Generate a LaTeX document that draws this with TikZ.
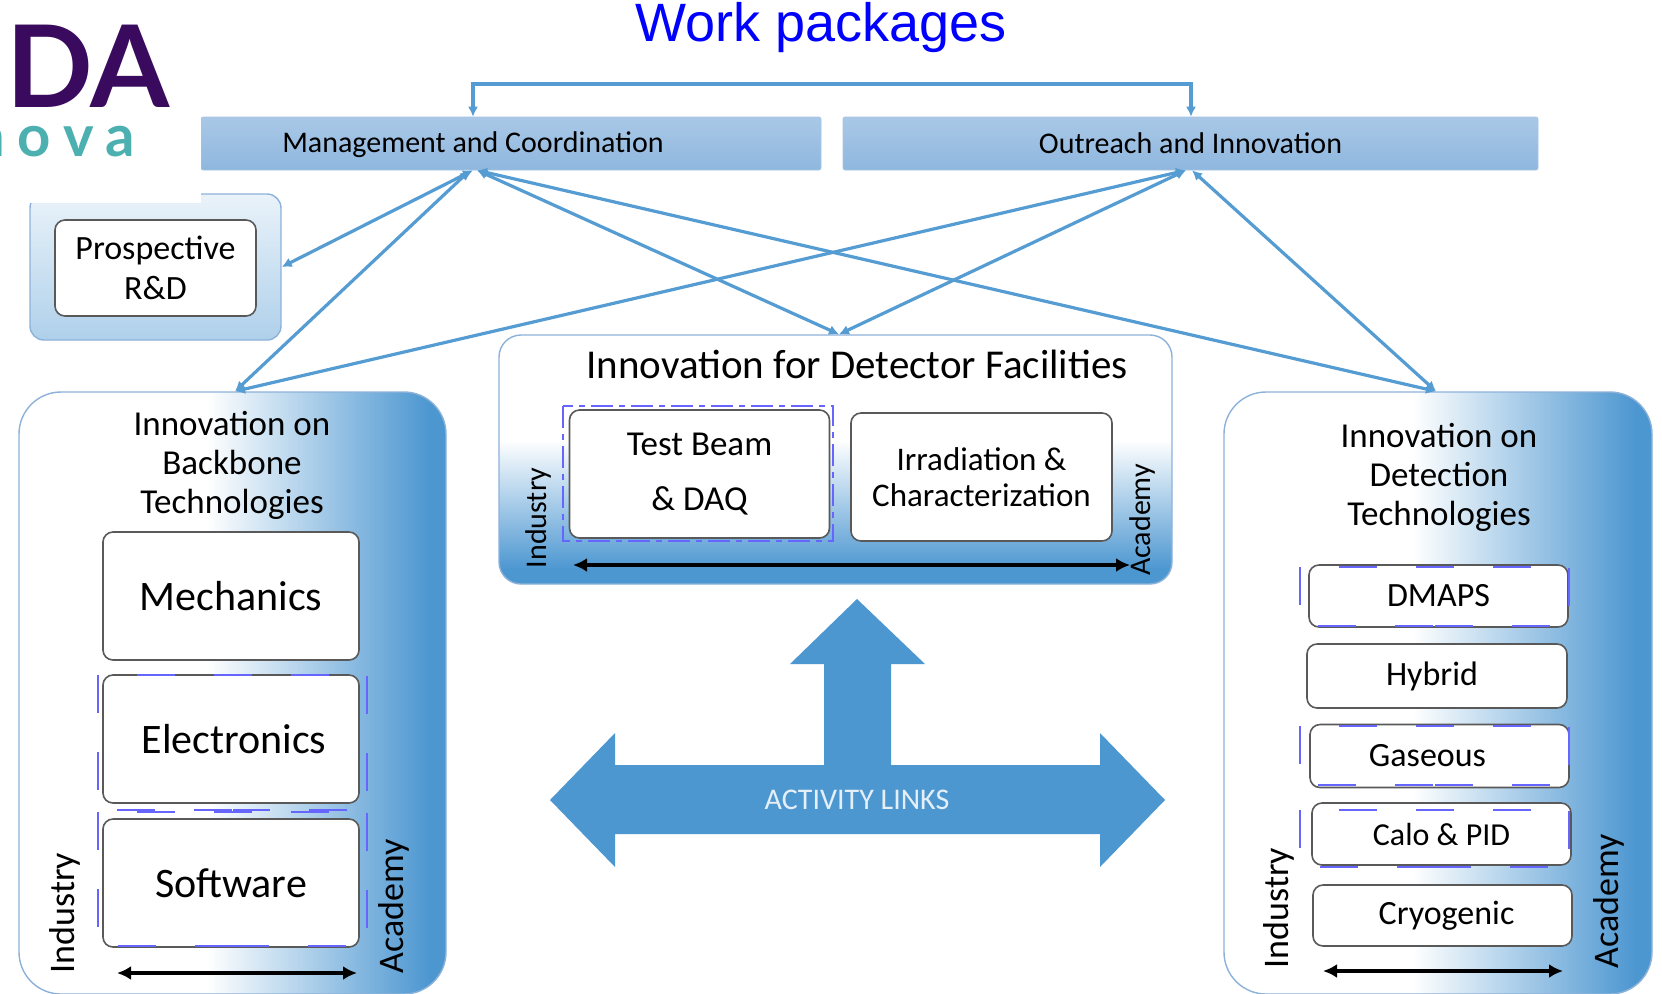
\documentclass[tikz,border=0pt]{standalone}
\usepackage{fontspec}
\setmainfont{Carlito}
\newfontfamily\titlefont{Liberation Sans}
\newfontfamily\logofont{Lato}
\usetikzlibrary{arrows.meta,shapes.misc}

\definecolor{linkblue}{HTML}{559CD3}
\definecolor{fadeblue}{HTML}{4D97D1}
\definecolor{dashblue}{HTML}{6666FF}
\definecolor{logopurple}{HTML}{3A0A5E}
\definecolor{logoteal}{HTML}{4CAFB0}
\pgfdeclarehorizontalshading{sidefade}{100bp}{color(0bp)=(white); color(47bp)=(white); color(73bp)=(fadeblue); color(100bp)=(fadeblue)}
\pgfdeclareverticalshading{basefade}{100bp}{color(0bp)=(fadeblue); color(28bp)=(fadeblue); color(54bp)=(white); color(100bp)=(white)}

% dashes run round two sides from the top left corner and meet under the box
\newcommand{\dashedframe}[4]{%
  \draw [dashframe] (#1,#2) -- (#1,#4) -- ({(#1+#3)/2},#4);
  \draw [dashframe,dash phase=19pt] (#1,#2) -- (#3,#2) -- (#3,#4) -- ({(#1+#3)/2},#4);
}

\tikzset{
  link/.style={linkblue,line width=1.6pt,{Latex[length=5pt,width=5pt]}-{Latex[length=5pt,width=5pt]}},
  spread/.style={black,line width=1.6pt,{Latex[length=7pt,width=7pt]}-{Latex[length=7pt,width=7pt]}},
  bar/.style={rectangle,rounded corners=1pt,top color=barlight,bottom color=bardark,draw=bardark!80!white,line width=0.3pt,font=\fontsize{15}{18}\selectfont,inner sep=0pt},
  item/.style={rectangle,draw=black!65,line width=0.8pt,fill=white,rounded corners=5pt,align=center,inner sep=0pt},
  panel/.style={rectangle,draw=panelline,line width=0.7pt,inner sep=0pt},
  side/.style={rotate=90,font=\fontsize{18}{20}\selectfont,inner sep=0pt},
  dashframe/.style={dashblue,line width=1.2pt,dash pattern=on 19pt off 19.5pt},
}
\definecolor{barlight}{HTML}{A9C8E7}
\definecolor{bardark}{HTML}{8FB7DE}
\definecolor{panelline}{HTML}{8DB2DA}

\begin{document}
\begin{tikzpicture}[x=0.5pt,y=-0.5pt]
    \clip (0,0) rectangle (1662,993);
    \fill [white] (0,0) rectangle (1662,993);
    % title
    \node (title) at (821,28) {\titlefont\fontsize{27}{30}\selectfont\color{blue}Work packages};
    % top bars
    \node [bar,minimum width=310pt,minimum height=26.5pt,text depth=0pt] (mgmt) at (511,143.5) {\hspace*{38pt}\hspace*{-38pt}};
    \node [bar,minimum width=347.5pt,minimum height=26.5pt] (outreach) at (1190.5,143.5) {Outreach and Innovation};
    \node [font=\fontsize{15}{18}\selectfont] (mgmt-text) at (473,145) {Management and Coordination};
    % prospective box
    \node [panel,rounded corners=7pt,minimum width=125.5pt,minimum height=73pt,top color=white!88!fadeblue,bottom color=white!55!fadeblue] (prospect) at (155.5,267) {};
    \node [item,minimum width=100.5pt,minimum height=48pt,font=\fontsize{17}{20}\selectfont] (prospect-rd) at (155.5,268) {Prospective\\R\&D};
    % logo
    \fill [white] (0,0) rectangle (201,203);
    \node [anchor=base west,inner sep=0pt,text=logopurple] (logo-da) at (6,107) {\logofont\bfseries\fontsize{57}{60}\selectfont DA};
    \node [anchor=base west,inner sep=0pt,text=logoteal] (logo-nova) at (-28,156) {\logofont\bfseries\addfontfeature{LetterSpace=22}\fontsize{29}{30}\selectfont nova};
    % the three panels
    \node [panel,rounded corners=21pt,minimum width=213.5pt,minimum height=301pt,shading=sidefade] (backbone) at (232.5,693) {};
    \node [panel,rounded corners=21pt,minimum width=214pt,minimum height=301pt,shading=sidefade] (detection) at (1438,693) {};
    \node [panel,rounded corners=11pt,minimum width=336.5pt,minimum height=124.5pt,shading=basefade] (facilities) at (835.5,459.5) {};
    % panel titles
    \node [align=center,font=\fontsize{17.5}{19.5}\selectfont] (backbone-title) at (232,465) {Innovation on\\Backbone\\Technologies};
    \node [align=center,font=\fontsize{17.5}{19.5}\selectfont] (detection-title) at (1439,477) {Innovation on\\Detection\\Technologies};
    \node [font=\fontsize{20.5}{24}\selectfont] (facilities-title) at (857,364) {Innovation for Detector Facilities};
    % items of the left panel
    \node [item,minimum width=128pt,minimum height=64pt,font=\fontsize{21}{24}\selectfont] (mechanics) at (231,596) {Mechanics};
    \node [item,minimum width=128pt,minimum height=64pt,font=\fontsize{21}{24}\selectfont] (electronics) at (231,739) {\hspace*{3pt}Electronics};
    \node [item,minimum width=128pt,minimum height=64pt,font=\fontsize{21}{24}\selectfont] (software) at (231,883) {Software};
    % items of the centre panel
    \node [item,minimum width=130pt,minimum height=64pt,font=\fontsize{17.5}{27.5}\selectfont] (testbeam) at (699.5,474) {Test Beam\\\& DAQ};
    \node [item,minimum width=130.5pt,minimum height=64pt,font=\fontsize{16.5}{18}\selectfont] (irradiation) at (981.5,477) {Irradiation \&\\Characterization};
    % items of the right panel
    \node [item,minimum width=129.5pt,minimum height=31pt,font=\fontsize{17}{20}\selectfont] (dmaps) at (1438.5,596) {DMAPS};
    \node [item,minimum width=130pt,minimum height=32pt,font=\fontsize{17}{20}\selectfont] (hybrid) at (1437,676) {\hspace*{-5pt}Hybrid};
    \node [item,minimum width=129.5pt,minimum height=31.5pt,font=\fontsize{17}{20}\selectfont] (gaseous) at (1439.5,756) {Gaseous\hspace*{12pt}};
    \node [item,minimum width=129.5pt,minimum height=31pt,font=\fontsize{16}{20}\selectfont] (calo) at (1441.5,834) {Calo \& PID};
    \node [item,minimum width=129.5pt,minimum height=30.5pt,font=\fontsize{17}{20}\selectfont] (cryogenic) at (1442.5,915.5) {\hspace*{4pt}Cryogenic};
    % dashed frames
    \dashedframe{98}{675}{367}{810}
    \dashedframe{98}{812}{367}{946}
    \dashedframe{1300}{567}{1569}{626}
    \dashedframe{1300}{726}{1569}{785}
    \dashedframe{1300}{810}{1569}{867}
    \draw [dashblue,line width=1.2pt,dash pattern=on 11pt off 3pt on 3pt off 3pt] (563,406) rectangle (833,541);
    % industry and academy
    \node [side] (industry-left) at (65,913) {Industry};
    \node [side] (academy-left) at (394,906) {Academy};
    \node [side,font=\fontsize{15}{18}\selectfont] (industry-mid) at (538,518) {Industry};
    \node [side,font=\fontsize{15}{18}\selectfont] (academy-mid) at (1142,520) {Academy};
    \node [side] (industry-right) at (1279,908) {Industry};
    \node [side] (academy-right) at (1609,901) {Academy};
    % arrows between industry and academy
    \draw [spread] (117,973) coordinate (spread-left-a) -- (357,973) coordinate (spread-left-b);
    \draw [spread] (573,565) coordinate (spread-mid-a) -- (1130,565) coordinate (spread-mid-b);
    \draw [spread] (1323,971) coordinate (spread-right-a) -- (1563,971) coordinate (spread-right-b);
    % activity links
    \fill [fadeblue] (857,599) -- (925,664) -- (891,664) -- (891,765) -- (1100,765) -- (1100,733) -- (1165,800)
      -- (1100,867) -- (1100,834) -- (615,834) -- (615,867) -- (550,800) -- (615,733) -- (615,765)
      -- (824,765) -- (824,664) -- (790,664) -- cycle;
    \node [text=white!85!fadeblue,font=\fontsize{15}{18}\selectfont] (links) at (857,800) {ACTIVITY LINKS};
    % main coordinates
    \coordinate (mgmt-a) at (470,0 |- mgmt.south);
    \coordinate (mgmt-b) at (473,0 |- mgmt.south);
    \coordinate (mgmt-c) at (477,0 |- mgmt.south);
    \coordinate (mgmt-top) at (473,0 |- mgmt.north);
    \coordinate (outreach-a) at (1186,0 |- outreach.south);
    \coordinate (outreach-b) at (1192,0 |- outreach.south);
    \coordinate (outreach-top) at (1191,0 |- outreach.north);
    \coordinate (prospect-in) at (prospect.east);
    \coordinate (backbone-in) at (235,0 |- backbone.north);
    \coordinate (detection-in) at (1436,0 |- detection.north);
    \coordinate (facilities-in) at (839,0 |- facilities.north);
    % links to the work packages
    \draw [link] (mgmt-top) -- (473,84) -- (1191,84) -- (outreach-top);
    \draw [link] (mgmt-b) -- (prospect-in);
    \draw [link] (mgmt-a) -- (backbone-in);
    \draw [link] (mgmt-c) -- (facilities-in);
    \draw [link] (mgmt-c) -- (detection-in);
    \draw [link] (outreach-a) -- (backbone-in);
    \draw [link] (outreach-a) -- (facilities-in);
    \draw [link] (outreach-b) -- (detection-in);
  \end{tikzpicture}
\end{document}
